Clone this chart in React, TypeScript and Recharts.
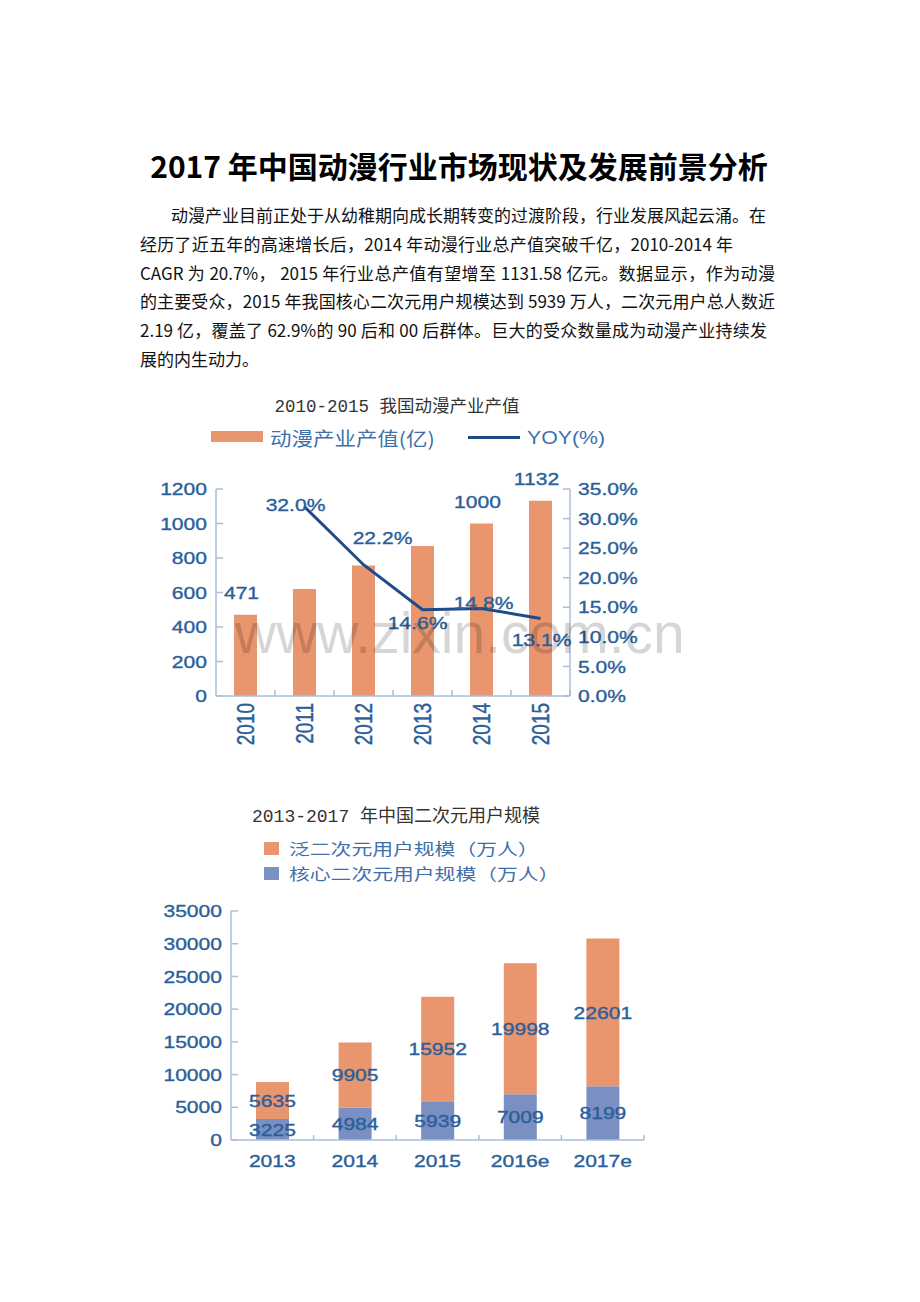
import { ComposedChart, BarChart, Bar, Line, XAxis, YAxis, LabelList } from 'recharts'

// chart 1: 2010-2015 output value
const years = ['2010', '2011', '2012', '2013', '2014', '2015']
const output = [471, 620, 757, 869, 1000, 1132]
const yoy = [null, 32.0, 22.2, 14.6, 14.8, 13.1]
const outputTicks = [0, 200, 400, 600, 800, 1000, 1200]
const yoyTicks = [0, 5, 10, 15, 20, 25, 30, 35]
const labelledYears = ['2010', '2014', '2015']

// chart 2: 2013-2017 users
const userYears = ['2013', '2014', '2015', '2016e', '2017e']
const coreUsers = [3225, 4984, 5939, 7009, 8199]
const panUsers = [5635, 9905, 15952, 19998, 22601]
const userTicks = [0, 5000, 10000, 15000, 20000, 25000, 30000, 35000]

const paragraph = [
  '动漫产业目前正处于从幼稚期向成长期转变的过渡阶段，行业发展风起云涌。在',
  '经历了近五年的高速增长后，2014 年动漫行业总产值突破千亿，2010-2014 年',
  'CAGR 为 20.7%， 2015 年行业总产值有望增至 1131.58 亿元。数据显示，作为动漫',
  '的主要受众，2015 年我国核心二次元用户规模达到 5939 万人，二次元用户总人数近',
  '2.19 亿，覆盖了 62.9%的 90 后和 00 后群体。巨大的受众数量成为动漫产业持续发',
  '展的内生动力。',
]
// left edge and justified width of each paragraph line
const lineBoxes = [
  [171, 595], [140, 593], [140, 635], [140, 635], [140, 627], [140, 0],
]
// label shift of each YOY label from its point
const yoyShift: ([number, number] | null)[] = [null, [-9, -2], [19, -27], [-5, 13], [2, -6], [1, 21]]

const ORANGE = '#E9956E'
const CORE = '#7A8FC2'
const NAVY = '#1D4B88'
const AXIS = '#A9BFD9'
const TEXT = '#2B5F9A'
const SANS = '"Liberation Sans", Arial, sans-serif'
const CJK = '"Noto Sans CJK SC", sans-serif'
const MONO = '"Liberation Mono", "Noto Sans CJK SC", monospace'
const SX = 1.24

const data1 = years.map((year, i) => ({ year, output: output[i], yoy: yoy[i] }))
const data2 = userYears.map((year, i) => ({ year, core: coreUsers[i], pan: panUsers[i] }))

function SText({ x, y, anchor = 'middle', children }: any) {
  return (
    <text
      transform={`translate(${x} ${y}) scale(${SX} 1)`}
      textAnchor={anchor}
      dy="0.36em"
      fontSize={17}
      fill={TEXT}
      stroke={TEXT}
      strokeWidth={0.35}
      fontFamily={SANS}
    >
      {children}
    </text>
  )
}

function LeftTick({ x, y, payload }: any) {
  return (
    <g>
      <line x1={x} x2={x + 7} y1={y} y2={y} stroke={AXIS} strokeWidth={1.5} />
      <SText x={x - 9} y={y} anchor="end">{payload.value}</SText>
    </g>
  )
}

function RightTick({ x, y, payload }: any) {
  return (
    <g>
      <line x1={x} x2={x - 7} y1={y} y2={y} stroke={AXIS} strokeWidth={1.5} />
      <SText x={x + 8} y={y} anchor="start">{payload.value.toFixed(1)}%</SText>
    </g>
  )
}

function RotatedYearTick({ x, y, payload }: any) {
  return (
    <g>
      <line x1={x + 29.5} x2={x + 29.5} y1={y - 6} y2={y} stroke={AXIS} strokeWidth={1.5} />
      <text
        transform={`translate(${x} ${y + 7}) rotate(-90) scale(1 1.3)`}
        textAnchor="end"
        dy="0.36em"
        fontSize={19}
        fill={TEXT}
        stroke={TEXT}
        strokeWidth={0.35}
        fontFamily={SANS}
      >
        {payload.value}
      </text>
    </g>
  )
}

function UserYearTick({ x, y, payload }: any) {
  return (
    <g>
      <line x1={x + 41.3} x2={x + 41.3} y1={y - 5} y2={y} stroke={AXIS} strokeWidth={1.5} />
      <SText x={x} y={y + 21}>{payload.value}</SText>
    </g>
  )
}

function OutputLabel({ x, y, width, value, index }: any) {
  if (!labelledYears.includes(years[index])) return null
  return <SText x={x + width / 2 - 4} y={y - 22}>{value}</SText>
}

function YoyLabel({ x, y, value, index }: any) {
  const shift = yoyShift[index]
  if (value == null || !shift) return null
  return <SText x={x + shift[0]} y={y + shift[1]}>{value.toFixed(1)}%</SText>
}

function CenterLabel({ x, y, width, height, value }: any) {
  return <SText x={x + width / 2} y={y + height / 2}>{value}</SText>
}

function Txt({ left, cy, size, family, color, sx = 1, weight = 400, lh = 30, children, style }: any) {
  return (
    <div
      style={{
        position: 'absolute',
        left,
        top: cy - lh / 2,
        height: lh,
        lineHeight: `${lh}px`,
        fontSize: size,
        fontFamily: family,
        fontWeight: weight,
        color,
        whiteSpace: 'nowrap',
        transform: `scaleX(${sx})`,
        transformOrigin: 'left center',
        ...style,
      }}
    >
      {children}
    </div>
  )
}

export default function App() {
  return (
    <div style={{ position: 'absolute', left: 0, top: 0, width: 920, height: 1302, background: '#fff' }}>
      <div
        style={{
          position: 'absolute', left: 0, top: 145, width: 918, textAlign: 'center',
          fontSize: 30, fontWeight: 700, lineHeight: '40px', fontFamily: CJK, color: '#000',
        }}
      >
        2017 年中国动漫行业市场现状及发展前景分析
      </div>

      <div style={{ position: 'absolute', left: 0, top: 201, fontFamily: CJK, fontSize: 17, color: '#111' }}>
        {paragraph.map((line, i) => (
          <div
            key={i}
            style={{
              position: 'absolute', left: lineBoxes[i][0], top: i * 28.8, height: 28.8, lineHeight: '28.8px',
              width: lineBoxes[i][1] || undefined, whiteSpace: 'nowrap',
              textAlign: lineBoxes[i][1] ? 'justify' : 'left',
              textAlignLast: lineBoxes[i][1] ? 'justify' : 'auto',
            }}
          >
            {line}
          </div>
        ))}
      </div>

      {/* chart 1 */}
      <div
        style={{
          position: 'absolute', left: 197, top: 392, width: 400, textAlign: 'center',
          fontSize: 17.5, lineHeight: '30px', fontFamily: MONO, color: '#333',
        }}
      >
        2010-2015 我国动漫产业产值
      </div>
      <div style={{ position: 'absolute', left: 211, top: 431, width: 52, height: 11, background: ORANGE }} />
      <Txt left={270} cy={438} size={19} family={CJK} color="#3F70AA" sx={1.13}>动漫产业产值(亿)</Txt>
      <div style={{ position: 'absolute', left: 468, top: 436, width: 52, height: 3, background: NAVY }} />
      <Txt left={527} cy={438} size={19} family={SANS} color="#3F70AA" sx={1.12}>YOY(%)</Txt>

      <div style={{ position: 'absolute', left: 130, top: 460 }}>
        <ComposedChart width={520} height={310} data={data1} margin={{ top: 29, right: 0, bottom: 0, left: 0 }}>
          <XAxis
            dataKey="year"
            height={74}
            interval={0}
            axisLine={{ stroke: AXIS, strokeWidth: 1.5 }}
            tickLine={false}
            tickSize={0}
            tickMargin={0}
            tick={(p: any) => <RotatedYearTick {...p} />}
          />
          <YAxis
            yAxisId="left"
            width={86}
            domain={[0, 1200]}
            ticks={outputTicks}
            interval={0}
            axisLine={{ stroke: AXIS, strokeWidth: 1.5 }}
            tickLine={false}
            tickSize={0}
            tickMargin={0}
            tick={(p: any) => <LeftTick {...p} />}
          />
          <YAxis
            yAxisId="right"
            orientation="right"
            width={80}
            domain={[0, 35]}
            ticks={yoyTicks}
            interval={0}
            axisLine={{ stroke: AXIS, strokeWidth: 1.5 }}
            tickLine={false}
            tickSize={0}
            tickMargin={0}
            tick={(p: any) => <RightTick {...p} />}
          />
          <Bar yAxisId="left" dataKey="output" fill={ORANGE} barSize={23} isAnimationActive={false}>
            <LabelList dataKey="output" content={(p: any) => <OutputLabel {...p} />} />
          </Bar>
          <Line
            yAxisId="right"
            dataKey="yoy"
            stroke={NAVY}
            strokeWidth={3}
            dot={false}
            activeDot={false}
            isAnimationActive={false}
          >
            <LabelList dataKey="yoy" content={(p: any) => <YoyLabel {...p} />} />
          </Line>
        </ComposedChart>
      </div>

      <div
        style={{
          position: 'absolute', left: 235, top: 605, fontFamily: SANS, fontSize: 57, lineHeight: '57px',
          color: 'rgba(0,0,0,0.16)', whiteSpace: 'nowrap', pointerEvents: 'none',
        }}
      >
        www.zixin.com.cn
      </div>

      {/* chart 2 */}
      <div
        style={{
          position: 'absolute', left: 196, top: 802, width: 400, textAlign: 'center',
          fontSize: 18, lineHeight: '30px', fontFamily: MONO, color: '#333',
        }}
      >
        2013-2017 年中国二次元用户规模
      </div>
      <div style={{ position: 'absolute', left: 264, top: 842, width: 15, height: 13, background: ORANGE }} />
      <Txt left={289} cy={848} size={16} family={CJK} color="#3F70AA" sx={1.3}>泛二次元用户规模（万人）</Txt>
      <div style={{ position: 'absolute', left: 264, top: 867, width: 15, height: 13, background: CORE }} />
      <Txt left={289} cy={873} size={16} family={CJK} color="#3F70AA" sx={1.3}>核心二次元用户规模（万人）</Txt>

      <div style={{ position: 'absolute', left: 130, top: 890 }}>
        <BarChart width={530} height={300} data={data2} margin={{ top: 21, right: 16, bottom: 0, left: 0 }}>
          <XAxis
            dataKey="year"
            height={50}
            interval={0}
            axisLine={{ stroke: AXIS, strokeWidth: 1.5 }}
            tickLine={false}
            tickSize={0}
            tickMargin={0}
            tick={(p: any) => <UserYearTick {...p} />}
          />
          <YAxis
            width={101}
            domain={[0, 35000]}
            ticks={userTicks}
            interval={0}
            axisLine={{ stroke: AXIS, strokeWidth: 1.5 }}
            tickLine={false}
            tickSize={0}
            tickMargin={0}
            tick={(p: any) => <LeftTick {...p} />}
          />
          <Bar dataKey="core" stackId="u" fill={CORE} barSize={33} isAnimationActive={false}>
            <LabelList dataKey="core" content={(p: any) => <CenterLabel {...p} />} />
          </Bar>
          <Bar dataKey="pan" stackId="u" fill={ORANGE} barSize={33} isAnimationActive={false}>
            <LabelList dataKey="pan" content={(p: any) => <CenterLabel {...p} />} />
          </Bar>
        </BarChart>
      </div>
    </div>
  )
}
